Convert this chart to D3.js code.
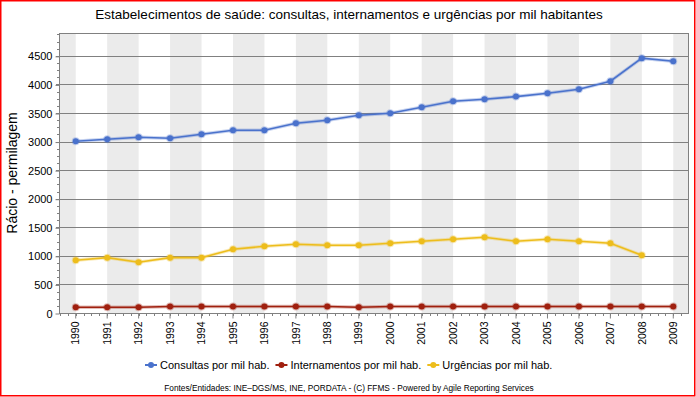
<!DOCTYPE html>
<html>
<head>
<meta charset="utf-8">
<script src="https://cdn.jsdelivr.net/npm/d3@7"></script>
<style>
  body { margin: 0; background: #fff; }
  text { font-family: "Liberation Sans", Arial, sans-serif; }
</style>
</head>
<body>
<div id="chart"></div>
<script>
'use strict'
var width = 696;
var height = 397;

// data
var years = ['1990','1991','1992','1993','1994','1995','1996','1997','1998','1999',
             '2000','2001','2002','2003','2004','2005','2006','2007','2008','2009'];
var consultas = [3006, 3041, 3076, 3058, 3128, 3198, 3198, 3321, 3373, 3461,
                 3496, 3601, 3706, 3741, 3787, 3846, 3916, 4056, 4459, 4406];
var internamentos = [100, 100, 100, 115, 115, 115, 115, 115, 115, 100,
                     115, 115, 115, 115, 115, 115, 115, 115, 115, 115];
var urgencias = [922, 969, 887, 969, 969, 1115, 1167, 1202, 1185, 1185,
                 1220, 1255, 1290, 1325, 1255, 1290, 1255, 1220, 1010, null];
var seriesNames = ['Consultas por mil hab.', 'Internamentos por mil hab.', 'Urgências por mil hab.'];
var seriesColors = ['#4A72CC', '#A0200F', '#EDBD1C'];
var yTicks = [0, 500, 1000, 1500, 2000, 2500, 3000, 3500, 4000, 4500];

var margin = {left: 60, right: 7, top: 33, bottom: 84};

var svg = d3.select('#chart')
	.append('svg')
	.attr('width', width)
	.attr('height', height);

// outer red frame
svg.append('rect')
	.attr('x', 0.75).attr('y', 0.75)
	.attr('width', 694).attr('height', 395)
	.attr('fill', 'none')
	.attr('stroke', '#FF0000')
	.attr('stroke-width', 1.5);

var x = d3.scaleBand()
	.domain(years)
	.range([margin.left, width - margin.right]);

var y = d3.scaleLinear()
	.domain([0, 4900])
	.range([height - margin.bottom, margin.top]);

function cx(yr) { return x(yr) + x.bandwidth() / 2; }

// alternating stripes between the points
var plot = svg.append('g');
var edges = [margin.left].concat(years.map(cx)).concat([width - margin.right]);
for (var i = 0; i < edges.length - 1; i++) {
	if (i % 2 === 0) {
		plot.append('rect')
			.attr('x', edges[i])
			.attr('y', margin.top)
			.attr('width', edges[i + 1] - edges[i])
			.attr('height', y(0) - margin.top)
			.attr('fill', '#EBEBEB');
	}
}

// gridlines
plot.selectAll('line.grid')
	.data(yTicks.slice(1))
	.enter()
	.append('line')
		.attr('x1', margin.left - 4)
		.attr('x2', width - margin.right)
		.attr('y1', function(d){ return Math.round(y(d)) + 0.5; })
		.attr('y2', function(d){ return Math.round(y(d)) + 0.5; })
		.style('stroke', '#808080')
		.style('stroke-width', '1px');

// plot frame
svg.append('rect')
	.attr('x', margin.left - 0.5)
	.attr('y', margin.top + 0.5)
	.attr('width', width - margin.right - margin.left)
	.attr('height', Math.round(y(0)) - margin.top)
	.attr('fill', 'none')
	.style('stroke', '#808080');

// y axis
var yAxis = d3.axisLeft(y)
	.tickValues(yTicks)
	.tickFormat(d3.format('d'))
	.tickSize(4)
	.tickPadding(3);
var gy = svg.append('g')
	.attr('transform', 'translate(' + (margin.left - 0.5) + ',0.5)')
	.call(yAxis);
gy.select('.domain').remove();
gy.selectAll('line').style('stroke', '#808080');
gy.selectAll('text').style('font-size', '11px').style('fill', '#000');

var minorY = d3.range(125, 4900, 125).filter(function(d){ return d % 500 !== 0; });
svg.append('g').selectAll('line')
	.data(minorY)
	.enter()
	.append('line')
		.attr('x1', margin.left - 3)
		.attr('x2', margin.left)
		.attr('y1', function(d){ return Math.round(y(d)) + 0.5; })
		.attr('y2', function(d){ return Math.round(y(d)) + 0.5; })
		.style('stroke', '#808080');

// x axis
var xAxis = d3.axisBottom(x).tickSize(5).tickPadding(4);
var gx = svg.append('g')
	.attr('transform', 'translate(0,' + (Math.round(y(0)) + 0.5) + ')')
	.call(xAxis);
gx.select('.domain').remove();
gx.selectAll('line').style('stroke', '#808080');
gx.selectAll('text')
	.style('font-size', '10.5px')
	.style('fill', '#000')
	.attr('text-anchor', 'end')
	.attr('transform', 'rotate(-90)')
	.attr('x', -8)
	.attr('y', 0)
	.attr('dy', '0.35em');

var step = x.bandwidth() / 4;
var minorX = d3.range(margin.left + x.bandwidth() / 2 - 2 * step, width - margin.right, step);
svg.append('g').selectAll('line')
	.data(minorX)
	.enter()
	.append('line')
		.attr('x1', function(d){ return Math.round(d) + 0.5; })
		.attr('x2', function(d){ return Math.round(d) + 0.5; })
		.attr('y1', Math.round(y(0)))
		.attr('y2', Math.round(y(0)) + 3)
		.style('stroke', '#808080');

// series
var allSeries = [consultas, internamentos, urgencias];
var line = d3.line()
	.defined(function(d){ return d !== null; })
	.x(function(d, i){ return cx(years[i]); })
	.y(function(d){ return y(d); });

allSeries.forEach(function(vals, k) {
	var g = svg.append('g');
	g.append('path')
		.attr('d', line(vals))
		.attr('fill', 'none')
		.style('stroke', seriesColors[k])
		.style('stroke-opacity', 0.3)
		.style('stroke-width', '3.5px');
	g.append('path')
		.attr('d', line(vals))
		.attr('fill', 'none')
		.style('stroke', seriesColors[k])
		.style('stroke-width', '1.6px');
	g.selectAll('circle')
		.data(vals.map(function(v, i){ return {v: v, yr: years[i]}; }).filter(function(d){ return d.v !== null; }))
		.enter()
		.append('circle')
			.attr('cx', function(d){ return cx(d.yr); })
			.attr('cy', function(d){ return y(d.v); })
			.attr('r', 3)
			.attr('fill', seriesColors[k])
			.style('stroke', seriesColors[k])
			.style('stroke-opacity', 0.3)
			.style('stroke-width', '2px');
});

// title
svg.append('text')
	.attr('x', 349)
	.attr('y', 19)
	.attr('text-anchor', 'middle')
	.style('font-size', '13.5px')
	.text('Estabelecimentos de saúde: consultas, internamentos e urgências por mil habitantes');

// y title
svg.append('text')
	.attr('transform', 'translate(17,173) rotate(-90)')
	.attr('text-anchor', 'middle')
	.style('font-size', '14px')
	.text('Rácio - permilagem');

// legend
var legend = svg.append('g');
var lx = 145;
seriesNames.forEach(function(name, k) {
	var item = legend.append('g').attr('transform', 'translate(' + lx + ',365)');
	item.append('line')
		.attr('x1', 0).attr('x2', 12)
		.style('stroke', seriesColors[k])
		.style('stroke-width', '2px');
	item.append('circle')
		.attr('cx', 6).attr('r', 3)
		.attr('fill', seriesColors[k]);
	var t = item.append('text')
		.attr('x', 15)
		.attr('dy', '0.35em')
		.style('font-size', '11px')
		.text(name);
	lx += 15 + t.node().getComputedTextLength() + 6;
});

// footer
svg.append('text')
	.attr('x', 349)
	.attr('y', 391)
	.attr('text-anchor', 'middle')
	.style('font-size', '8.3px')
	.text('Fontes/Entidades: INE–DGS/MS, INE, PORDATA - (C) FFMS - Powered by Agile Reporting Services');
</script>
</body>
</html>
